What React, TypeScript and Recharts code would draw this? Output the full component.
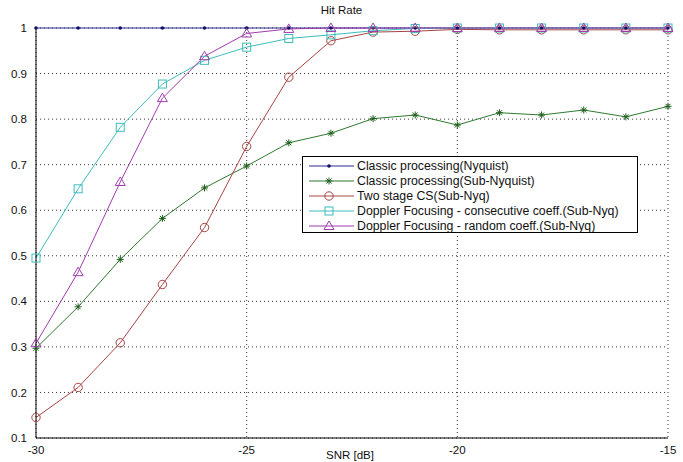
import React from "react";
import {
  LineChart,
  Line,
  XAxis,
  YAxis,
  CartesianGrid,
  Label,
} from "recharts";

const snr = [-30, -29, -28, -27, -26, -25, -24, -23, -22, -21, -20, -19, -18, -17, -16, -15];
const nyquist = [1, 1, 1, 1, 1, 1, 1, 1, 1, 1, 1, 1, 1, 1, 1, 1];
const subNyquist = [0.297, 0.388, 0.492, 0.582, 0.649, 0.697, 0.748, 0.769, 0.801, 0.809, 0.787, 0.814, 0.809, 0.82, 0.805, 0.828];
const twoStage = [0.145, 0.211, 0.309, 0.437, 0.562, 0.74, 0.892, 0.972, 0.991, 0.993, 0.997, 0.996, 0.996, 0.996, 0.996, 0.996];
const consecutive = [0.495, 0.647, 0.782, 0.877, 0.929, 0.958, 0.977, 0.985, 0.994, 0.999, 1, 1, 1, 1, 1, 1];
const randomCoeff = [0.308, 0.464, 0.662, 0.846, 0.938, 0.988, 0.998, 1, 1, 1, 1, 1, 1, 1, 1, 1];

const xTicks = [-30, -25, -20, -15];
const yTicks = [0.1, 0.2, 0.3, 0.4, 0.5, 0.6, 0.7, 0.8, 0.9, 1];

type Marker = "dot" | "star" | "circle" | "square" | "triangle";

const series: { key: string; name: string; color: string; marker: Marker }[] = [
  { key: "nyquist", name: "Classic processing(Nyquist)", color: "#2c2c8c", marker: "dot" },
  { key: "subNyquist", name: "Classic processing(Sub-Nyquist)", color: "#2f7a2f", marker: "star" },
  { key: "twoStage", name: "Two stage CS(Sub-Nyq)", color: "#a84444", marker: "circle" },
  { key: "consecutive", name: "Doppler Focusing - consecutive coeff.(Sub-Nyq)", color: "#3ebcbc", marker: "square" },
  { key: "randomCoeff", name: "Doppler Focusing - random coeff.(Sub-Nyq)", color: "#a03cae", marker: "triangle" },
];

const data = snr.map((x, i) => ({
  snr: x,
  nyquist: nyquist[i],
  subNyquist: subNyquist[i],
  twoStage: twoStage[i],
  consecutive: consecutive[i],
  randomCoeff: randomCoeff[i],
}));

const FONT = "'Liberation Sans', Arial, sans-serif";

function drawMarker(marker: Marker, cx: number, cy: number, color: string, key?: string) {
  if (cx == null || cy == null) return <g key={key} />;
  switch (marker) {
    case "dot":
      return <circle key={key} cx={cx} cy={cy} r={1.8} fill="#10106a" stroke="none" />;
    case "star":
      return (
        <g key={key} stroke="#1d5e1d" strokeWidth={1}>
          <line x1={cx - 3.5} y1={cy} x2={cx + 3.5} y2={cy} />
          <line x1={cx} y1={cy - 3.5} x2={cx} y2={cy + 3.5} />
          <line x1={cx - 2.5} y1={cy - 2.5} x2={cx + 2.5} y2={cy + 2.5} />
          <line x1={cx - 2.5} y1={cy + 2.5} x2={cx + 2.5} y2={cy - 2.5} />
        </g>
      );
    case "circle":
      return <circle key={key} cx={cx} cy={cy} r={4.2} fill="none" stroke={color} strokeWidth={1} />;
    case "square":
      return <rect key={key} x={cx - 4} y={cy - 4} width={8} height={8} fill="none" stroke={color} strokeWidth={1} />;
    case "triangle":
      return (
        <polygon
          key={key}
          points={`${cx},${cy - 5} ${cx - 5},${cy + 3.5} ${cx + 5},${cy + 3.5}`}
          fill="none"
          stroke={color}
          strokeWidth={1}
        />
      );
  }
}

function LegendBox() {
  return (
    <div
      style={{
        position: "absolute",
        left: 302,
        top: 156,
        border: "1px solid #000",
        background: "#fff",
        width: 336,
        height: 77,
        boxSizing: "border-box",
        fontFamily: FONT,
        fontSize: 12.3,
        color: "#111",
        paddingTop: 1,
      }}
    >
      {series.map((s) => (
        <div key={s.key} style={{ display: "flex", alignItems: "center", height: 15 }}>
          <svg width={54} height={14} style={{ flex: "none" }}>
            <line x1={6} y1={7} x2={51} y2={7} stroke={s.color} strokeWidth={1} />
            {drawMarker(s.marker, 26, 7, s.color)}
          </svg>
          <span style={{ whiteSpace: "nowrap" }}>{s.name}</span>
        </div>
      ))}
    </div>
  );
}

export default function App() {
  return (
    <div style={{ position: "absolute", left: 0, top: 0, width: 683, height: 462, background: "#fff" }}>
      <div
        style={{
          position: "absolute",
          left: 0,
          width: 683,
          top: 4,
          textAlign: "center",
          fontFamily: FONT,
          fontSize: 11.5,
          color: "#111",
        }}
      >
        Hit Rate
      </div>
      <LineChart
        width={683}
        height={462}
        data={data}
        margin={{ top: 28, right: 15, bottom: 0, left: 0 }}
      >
        <CartesianGrid
          stroke="#333"
          strokeDasharray="1 3"
          horizontalValues={yTicks}
          verticalValues={xTicks}
        />
        <XAxis
          dataKey="snr"
          type="number"
          domain={[-30, -15]}
          ticks={xTicks}
          height={24}
          tickLine={false}
          tickMargin={2}
          axisLine={{ stroke: "#000" }}
          tick={{ fill: "#111", fontSize: 11.5, fontFamily: FONT }}
        >
          <Label
            value="SNR [dB]"
            position="insideBottom"
            offset={3}
            dx={-2}
            style={{ fill: "#111", fontSize: 11.5, fontFamily: FONT }}
          />
        </XAxis>
        <YAxis
          type="number"
          domain={[0.1, 1]}
          ticks={yTicks}
          width={36}
          tickLine={false}
          tickMargin={3}
          axisLine={{ stroke: "#000" }}
          tick={{ fill: "#111", fontSize: 11.5, fontFamily: FONT }}
        />
        {series.map((s) => (
          <Line
            key={s.key}
            dataKey={s.key}
            name={s.name}
            type="linear"
            stroke={s.color}
            strokeWidth={1}
            isAnimationActive={false}
            dot={(p: any) => drawMarker(s.marker, p.cx, p.cy, s.color, `${s.key}-${p.index}`)}
            activeDot={false}
          />
        ))}
      </LineChart>
      <LegendBox />
    </div>
  );
}
